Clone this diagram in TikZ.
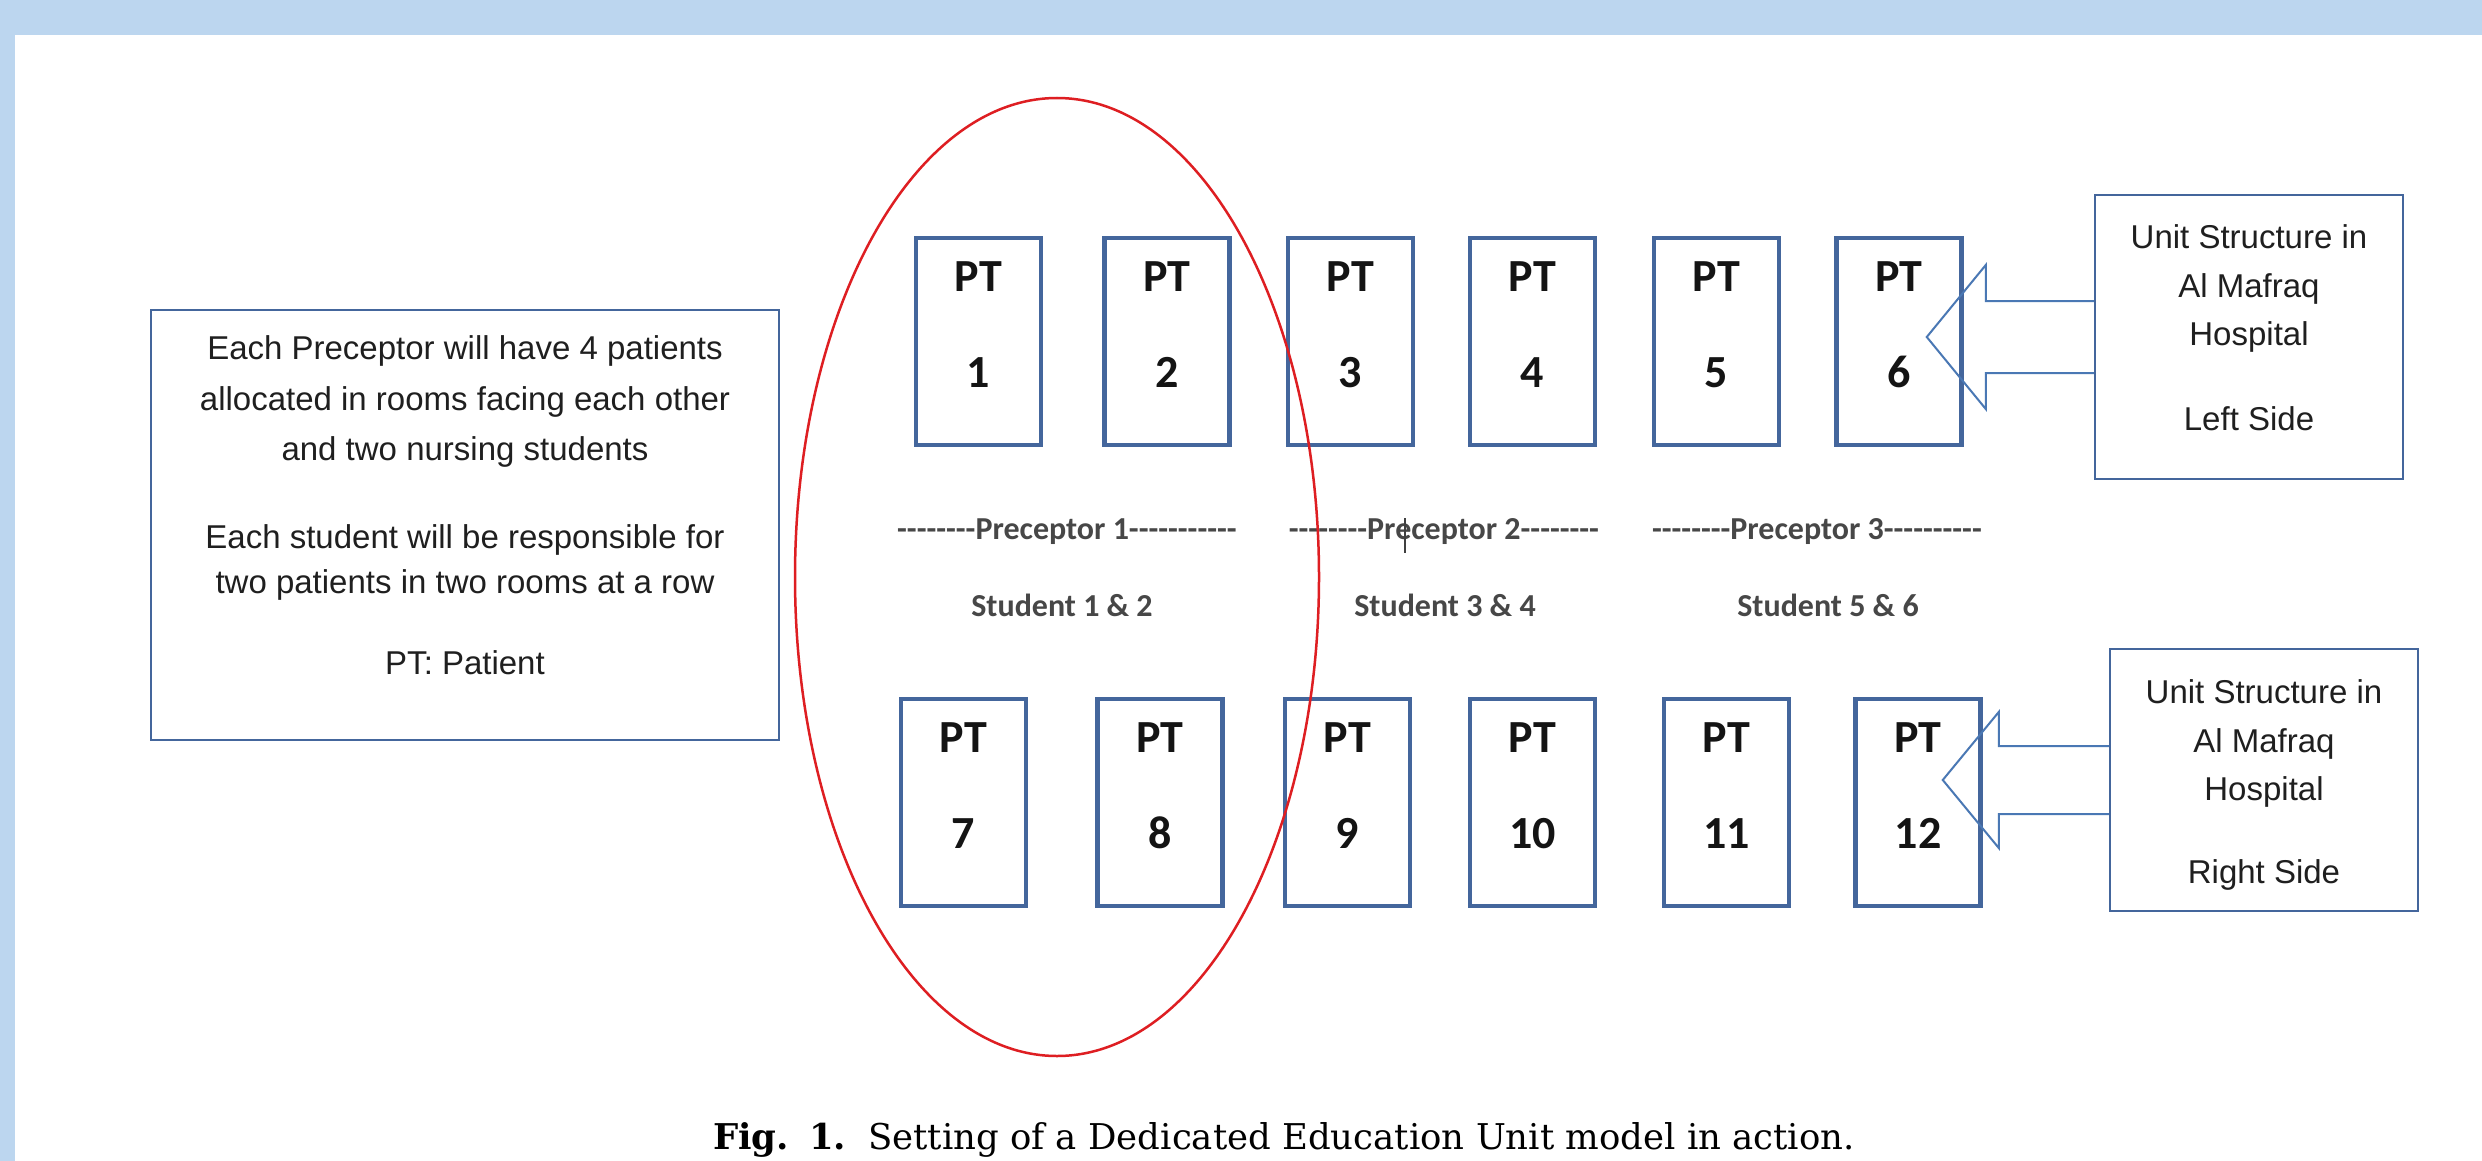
\documentclass[tikz,border=0pt]{standalone}
\usepackage{fontspec}
\setmainfont{Liberation Sans}
\newfontfamily\calfont{Carlito}[Ligatures=TeXOff]
\newfontfamily\capfont{DejaVu Serif}
\usetikzlibrary{calc,shapes.geometric}
\definecolor{band}{RGB}{188,214,239}
\definecolor{boxblue}{RGB}{68,102,156}
\definecolor{arrowblue}{RGB}{74,120,180}
\definecolor{ringred}{RGB}{222,30,34}
\tikzset{
  ptbox/.style={draw=boxblue, line width=4.5pt, minimum width=125pt, minimum height=207pt, inner sep=0pt},
  pttext/.style={font=\calfont\bfseries\fontsize{46}{46}\selectfont, anchor=base, inner sep=0pt, text=black!92},
  unitbox/.style={draw=boxblue, line width=2.5pt, inner sep=0pt},
  sanstext/.style={font=\fontsize{33}{33}\selectfont, anchor=base, inner sep=0pt, text=black!88},
  prectext/.style={font=\calfont\bfseries\fontsize{32}{32}\selectfont, anchor=base, inner sep=0pt, text=black!72},
  blockarrow/.style={draw=arrowblue, line width=2pt, line join=miter},
  groupring/.style={draw=ringred, line width=2.5pt, ellipse, inner sep=0pt},
}
\begin{document}
\begin{tikzpicture}[x=1pt,y=-1pt]
\useasboundingbox (0,0) rectangle (2482,1161);
\fill[white] (0,0) rectangle (2482,1161);
\fill[band] (0,0) rectangle (2482,35);
\fill[band] (0,0) rectangle (15,1161);

% left explanation box
\node[unitbox, minimum width=628pt, minimum height=430pt] (lbox) at (465,525) {};
\node[sanstext] (l1) at (465,359) {Each Preceptor will have 4 patients};
\node[sanstext] (l2) at (465,410) {allocated in rooms facing each other};
\node[sanstext] (l3) at (465,460) {and two nursing students};
\node[sanstext] (l4) at (465,548) {Each student will be responsible for};
\node[sanstext] (l5) at (465,593) {two patients in two rooms at a row};
\node[sanstext] (l6) at (465,674) {PT: Patient};

% patient rooms, top row
\foreach \i/\x in {1/978.5, 2/1167, 3/1350.5, 4/1532.5, 5/1716.5, 6/1899} {
  \node[ptbox] (b\i) at (\x,341.5) {};
  \node[pttext] (pt\i) at ($(b\i.north)+(0,56)$) {PT};
  \node[pttext] (n\i) at ($(b\i.north)+(0,152)$) {\i};
}
% patient rooms, bottom row
\foreach \i/\x in {7/963.5, 8/1160, 9/1347.5, 10/1532.5, 11/1726.5, 12/1918} {
  \node[ptbox] (b\i) at (\x,802.5) {};
  \node[pttext] (pt\i) at ($(b\i.north)+(0,56)$) {PT};
  \node[pttext] (n\i) at ($(b\i.north)+(0,152)$) {\i};
}

% preceptors and students
\node[prectext] (p1) at (1067,539) {--------Preceptor 1-----------};
\node[prectext] (p2) at (1444,539) {--------Preceptor 2--------};
\node[prectext] (p3) at (1817,539) {--------Preceptor 3----------};
\draw[line width=1.5pt, black!75] (1405,518) -- (1405,553);
\node[prectext] (s1) at (1062,616) {Student 1 \& 2};
\node[prectext] (s2) at (1445,616) {Student 3 \& 4};
\node[prectext] (s3) at (1828,616) {Student 5 \& 6};

% unit structure boxes
\node[unitbox, minimum width=308pt, minimum height=284pt] (u1) at (2249,337) {};
\node[sanstext] (u1a) at (2249,249) {Unit Structure in};
\node[sanstext] (u1b) at (2249,298) {Al Mafraq};
\node[sanstext] (u1c) at (2249,345) {Hospital};
\node[sanstext] (u1d) at (2249,430) {Left Side};

\node[unitbox, minimum width=308pt, minimum height=262pt] (u2) at (2264,780) {};
\node[sanstext] (u2a) at (2264,703) {Unit Structure in};
\node[sanstext] (u2b) at (2264,752) {Al Mafraq};
\node[sanstext] (u2c) at (2264,800) {Hospital};
\node[sanstext] (u2d) at (2264,883) {Right Side};

% block arrows
\draw[blockarrow] ($(u1.west)+(0,-36)$) -- ++(-108,0) -- ++(0,-36) -- ++(-59,72) -- ++(59,72) -- ++(0,-36) -- ++(108,0);
\draw[blockarrow] ($(u2.west)+(0,-34)$) -- ++(-110,0) -- ++(0,-34) -- ++(-56,68) -- ++(56,68) -- ++(0,-34) -- ++(110,0);

% red group ring
\node[groupring, minimum width=524pt, minimum height=958pt] (ring) at (1057,577) {};

% caption
\node[anchor=base, inner sep=0pt, font=\capfont\fontsize{35.5}{35.5}\selectfont] (cap) at (1284,1149) {\textbf{Fig.\hspace{20pt}1.}\hspace{22pt}Setting of a Dedicated Education Unit model in action.};
\end{tikzpicture}
\end{document}
